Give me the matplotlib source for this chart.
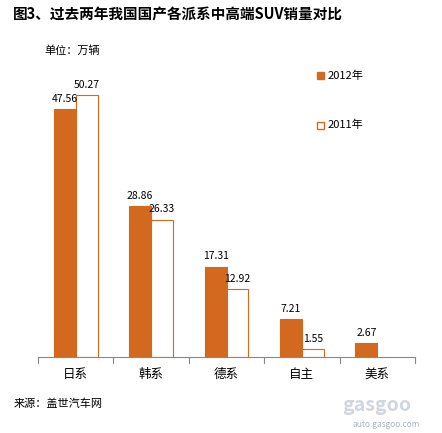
import matplotlib
matplotlib.use("Agg")
import matplotlib.pyplot as plt
import numpy as np

plt.rcParams['font.family'] = ['Noto Sans CJK SC', 'DejaVu Sans']

categories = ["日系", "韩系", "德系", "自主", "美系"]
sales_2012 = [47.56, 28.86, 17.31, 7.21, 2.67]
sales_2011 = [50.27, 26.33, 12.92, 1.55, None]

orange = "#D2691E"
fig = plt.figure(figsize=(4.42, 4.33), dpi=100)
ax = fig.add_axes([0.086, 0.176, 0.853, 0.662])

x = np.arange(len(categories))
w = 0.29
for i, (a, b) in enumerate(zip(sales_2012, sales_2011)):
    ax.bar(x[i] - w / 2, a, w, color=orange, edgecolor=orange, linewidth=0.8)
    ax.text(x[i] - w / 2, a + 1, f"{a:.2f}", ha="center", va="bottom", fontsize=7.5)
    if b is not None:
        ax.bar(x[i] + w / 2, b, w, color="white", edgecolor=orange, linewidth=0.8)
        ax.text(x[i] + w / 2, b + 1, f"{b:.2f}", ha="center", va="bottom", fontsize=7.5)

ax.set_xlim(-0.5, len(categories) - 0.5)
ax.set_ylim(0, 55)
for s in ["top", "right", "left"]:
    ax.spines[s].set_visible(False)
ax.spines["bottom"].set_color("#888888")
ax.set_yticks([])
ax.set_xticks(x)
ax.set_xticklabels(categories, fontsize=9)
ax.tick_params(axis="x", length=0, pad=8)
for b in np.arange(-0.5, len(categories), 1.0):
    ax.plot([b, b], [0, -1.2], color="#888888", lw=0.8, clip_on=False)

fig.text(0.03, 0.955, "图3、过去两年我国国产各派系中高端SUV销量对比", fontsize=10.5, fontweight="bold")
fig.text(0.1, 0.875, "单位：万辆", fontsize=8)
fig.patches.append(plt.Rectangle((0.718, 0.818), 0.014, 0.016, transform=fig.transFigure,
                                 facecolor=orange, edgecolor=orange))
fig.text(0.74, 0.826, "2012年", fontsize=8, va="center")
fig.patches.append(plt.Rectangle((0.718, 0.703), 0.014, 0.016, transform=fig.transFigure,
                                 facecolor="white", edgecolor=orange))
fig.text(0.74, 0.711, "2011年", fontsize=8, va="center")
fig.text(0.03, 0.06, "来源：盖世汽车网", fontsize=8)
fig.text(0.93, 0.05, "gasgoo", fontsize=14, color="#cfd6e0", ha="right", fontweight="bold")
fig.text(0.95, 0.015, "auto.gasgoo.com", fontsize=6, color="#aab4c4", ha="right")

fig.savefig("out.png", dpi=100)
